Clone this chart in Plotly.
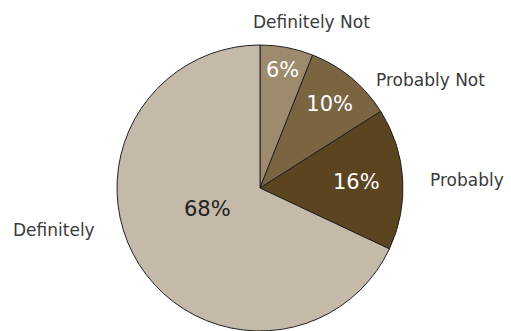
import plotly.graph_objects as go

labels = ["Definitely Not", "Probably Not", "Probably", "Definitely"]
values = [6, 10, 16, 68]
colors = ["#9e8a6d", "#7a6442", "#5a4520", "#c5baa9"]
text_colors = ["white", "white", "white", "#222222"]

W, H = 511, 331
cx, cy, r = 260, 188, 143

# percentages drawn inside (largest slice's label placed by annotation)
pct_text = [f"{v}%" for v in values]
inside_text = pct_text[:-1] + [""]

fig = go.Figure(go.Pie(
    labels=labels,
    values=values,
    text=inside_text,
    sort=False,
    direction="clockwise",
    rotation=0,
    marker=dict(colors=colors, line=dict(color="#222222", width=1)),
    textinfo="text",
    textposition="inside",
    insidetextorientation="horizontal",
    textfont=dict(color=text_colors, size=21, family="DejaVu Sans"),
    showlegend=False,
    hoverinfo="label+percent",
    domain=dict(x=[(cx - r) / W, (cx + r) / W], y=[0, 2 * r / H]),
))

fig.add_annotation(x=207 / W, y=1 - 209 / H, xref="paper", yref="paper",
                   text=pct_text[-1], showarrow=False,
                   font=dict(size=21, color=text_colors[-1], family="DejaVu Sans"),
                   xanchor="center", yanchor="middle")

# outside category labels
label_pos = {
    "Definitely Not": (311, 22),
    "Probably Not": (430, 80),
    "Probably": (467, 180),
    "Definitely": (54, 230),
}
for lab in labels:
    x, y = label_pos[lab]
    fig.add_annotation(x=x / W, y=1 - y / H, xref="paper", yref="paper",
                       text=lab, showarrow=False,
                       font=dict(size=17, color="#3a3a3a", family="DejaVu Sans"),
                       xanchor="center", yanchor="middle")

fig.update_layout(
    width=W, height=H,
    margin=dict(l=0, r=0, t=0, b=0),
    paper_bgcolor="white",
    plot_bgcolor="white",
)
fig.write_html("out.html", config={"displayModeBar": False},
               post_script="document.body.style.margin='0';")
